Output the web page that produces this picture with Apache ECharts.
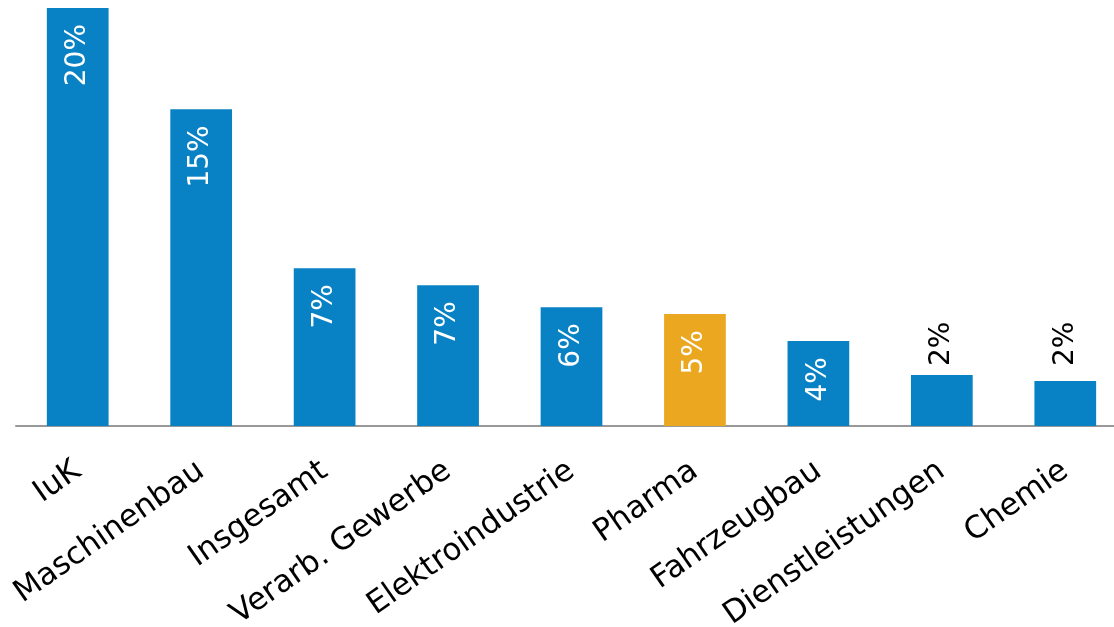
<!DOCTYPE html>
<html>
<head>
<meta charset="utf-8">
<script src="https://cdn.jsdelivr.net/npm/echarts@6/dist/echarts.min.js"></script>
<style>
  html, body { margin: 0; padding: 0; background: #fff; }
  #chart { width: 1114px; height: 627px; }
</style>
</head>
<body>
<div id="chart"></div>
<script>
// Branchen und Anteile (in %)
const categories = ['IuK', 'Maschinenbau', 'Insgesamt', 'Verarb. Gewerbe', 'Elektroindustrie', 'Pharma', 'Fahrzeugbau', 'Dienstleistungen', 'Chemie'];
const shares = [19.6, 14.85, 7.4, 6.6, 5.57, 5.25, 3.98, 2.39, 2.11];
const highlighted = ['Pharma'];
const labelOutside = ['Dienstleistungen', 'Chemie'];

const BLUE = '#0882c4';
const ORANGE = '#eca721';
const FONT = '"DejaVu Sans", Verdana, sans-serif';

// Außenliegende Beschriftungen auf gleicher Höhe ausrichten
const outsideLabelTop = Math.max(...labelOutside.map(n => shares[categories.indexOf(n)]));

const seriesData = categories.map((name, i) => {
  const item = { value: shares[i] };
  if (highlighted.includes(name)) item.itemStyle = { color: ORANGE };
  if (labelOutside.includes(name)) {
    // 21.3 px je Prozentpunkt bei der gegebenen Plot-Höhe
    const extra = (outsideLabelTop - shares[i]) * 21.3;
    item.label = { position: 'top', align: 'left', color: '#000', distance: 9 + extra };
  }
  return item;
});

const chart = echarts.init(document.getElementById('chart'), null, { renderer: 'canvas' });
chart.setOption({
  animation: false,
  backgroundColor: '#fff',
  grid: {
    left: 16, right: -13, top: 8, bottom: 201,
    containLabel: false,
    outerBoundsMode: 'none'
  },
  xAxis: {
    type: 'category',
    data: categories,
    axisLine: { show: true, lineStyle: { color: '#999', width: 2 } },
    axisTick: { show: false },
    axisLabel: {
      interval: 0,
      rotate: 35,
      margin: 42,
      color: '#000',
      fontFamily: FONT,
      fontSize: 31
    }
  },
  yAxis: {
    type: 'value',
    min: 0,
    max: 'dataMax',
    show: false,
    splitLine: { show: false }
  },
  series: [{
    type: 'bar',
    data: seriesData,
    barWidth: '50%',
    itemStyle: { color: BLUE },
    label: {
      show: true,
      position: 'insideTop',
      rotate: 90,
      align: 'right',
      verticalAlign: 'middle',
      distance: 16,
      color: '#fff',
      fontFamily: FONT,
      fontSize: 28,
      formatter: p => Math.round(p.value) + '%'
    }
  }]
});
</script>
</body>
</html>
